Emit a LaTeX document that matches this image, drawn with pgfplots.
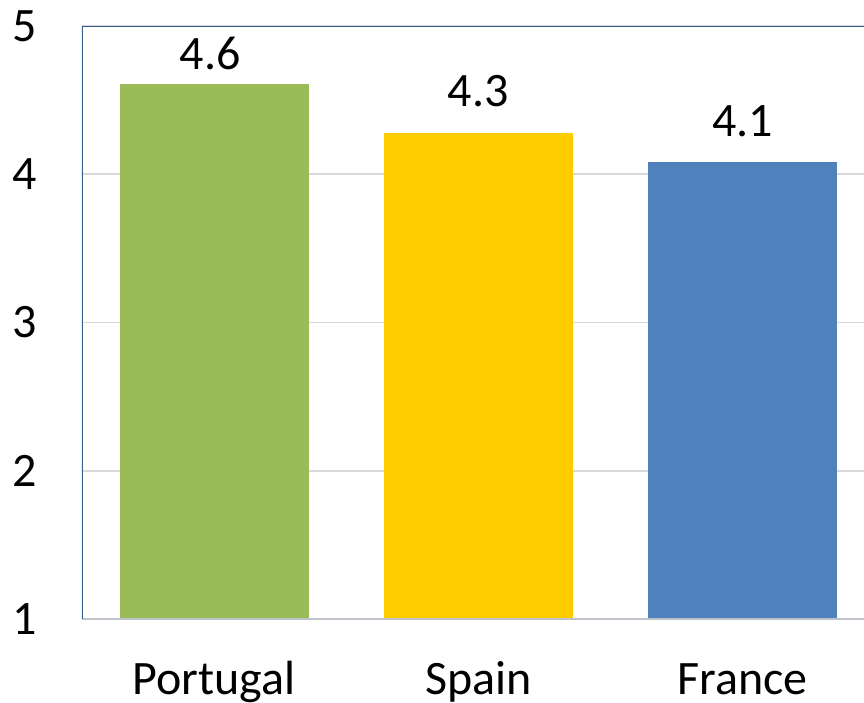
\documentclass[border=0pt]{standalone}
\usepackage{fontspec}
\setmainfont{Carlito}
\usepackage{pgfplots}
\pgfplotsset{compat=1.18}
\definecolor{cgreen}{HTML}{9BBB59}
\definecolor{cyellow}{HTML}{FFCC00}
\definecolor{cblue}{HTML}{4F81BD}
\definecolor{frameblue}{HTML}{3A5F8F}
\definecolor{basegray}{HTML}{BFC4CC}
\definecolor{gridgray}{HTML}{D9D9D9}
\begin{document}
\begin{tikzpicture}
\begin{axis}[
  at={(41pt,42pt)}, anchor=south west,
  scale only axis=true,
  width=391pt, height=296.5pt,
  xmin=-0.5, xmax=2.46,
  ymin=1, ymax=5,
  ytick={1,2,3,4,5},
  xtick={0,1,2},
  xticklabels={Portugal,Spain,France},
  major tick length=0pt,
  axis line style={draw=none},
  ymajorgrids=true,
  grid style={gridgray, line width=0.8pt},
  /pgf/number format/assume math mode=true,
  tick label style={font=\fontsize{24}{28}\selectfont},
  yticklabel style={anchor=center, xshift=-28.5pt},
  xticklabel style={anchor=base, yshift=-37.5pt},
  ybar, bar width=94.5pt, bar shift=0pt,
  nodes near coords,
  nodes near coords style={font=\fontsize{24}{28}\selectfont, anchor=south, inner sep=0pt, yshift=12.5pt,
    /pgf/number format/fixed, /pgf/number format/fixed zerofill, /pgf/number format/precision=1, /pgf/number format/assume math mode=true},
]
\addplot[fill=cgreen, draw=none, nodes near coords style={yshift=-5.5pt, xshift=-2pt}] coordinates {(0,4.61)};
\addplot[fill=cyellow, draw=none] coordinates {(1,4.28)};
\addplot[fill=cblue, draw=none] coordinates {(2,4.08)};
\draw[basegray, line width=1.2pt] (rel axis cs:0,0) -- (rel axis cs:1,0);
\draw[frameblue, line width=1.2pt] (rel axis cs:0,0) -- (rel axis cs:0,1) -- (rel axis cs:1,1);
\end{axis}
\pgfresetboundingbox
\path (0,0) rectangle (432pt,351.5pt);
\end{tikzpicture}
\end{document}
